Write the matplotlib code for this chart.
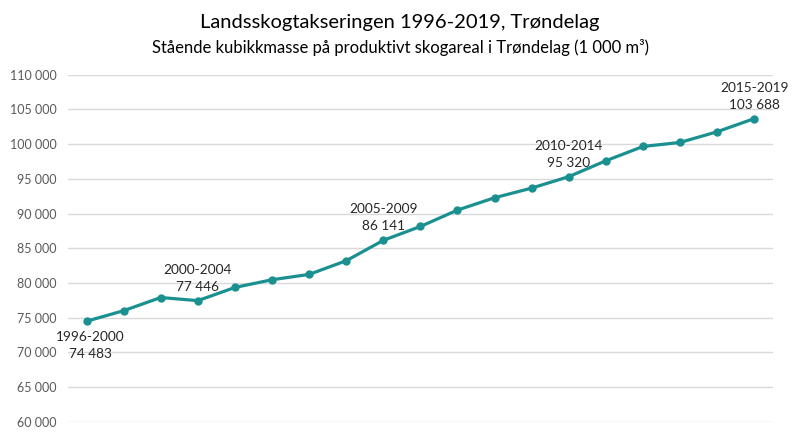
import numpy as np
import matplotlib.pyplot as plt

plt.rcParams['font.family'] = ['Lato', 'DejaVu Sans']

# volum per takstperiode (1 000 m3)
perioder = ['1996-2000', '1997-2001', '1998-2002', '2000-2004', '2001-2005',
            '2002-2006', '2003-2007', '2004-2008', '2005-2009', '2006-2010',
            '2007-2011', '2008-2012', '2009-2013', '2010-2014', '2011-2015',
            '2012-2016', '2013-2017', '2014-2018', '2015-2019']
volum = [74483, 76000, 77900, 77446, 79350, 80460, 81230, 83200, 86141, 88140,
         90500, 92280, 93670, 95320, 97610, 99670, 100250, 101790, 103688]
merket = ['1996-2000', '2000-2004', '2005-2009', '2010-2014', '2015-2019']

farge = '#1a9090'

fig = plt.figure(figsize=(8, 4.4), dpi=100)
ax = fig.add_axes([0.085, 0.0416, 0.881, 0.7884])

x = np.arange(len(volum))
ax.plot(x, volum, color=farge, lw=2.3, marker='o', ms=5, zorder=3)

ax.set_xlim(-0.5, len(volum) - 0.5)
ax.set_ylim(60000, 110000)
ax.set_yticks(np.arange(60000, 110001, 5000))
ax.set_yticklabels([f'{v:,}'.replace(',', ' ') for v in range(60000, 110001, 5000)],
                   fontsize=9, color='#595959')
ax.set_xticks([])
ax.tick_params(axis='y', length=0, pad=8)
ax.grid(axis='y', color='#d9d9d9', lw=1)
ax.set_axisbelow(True)
for s in ax.spines.values():
    s.set_visible(False)

for p in merket:
    i = perioder.index(p)
    v = volum[i]
    tekst = p + '\n' + f'{v:,}'.replace(',', ' ')
    if i == 0:
        ax.annotate(tekst, (i, v), xytext=(4, -10), textcoords='offset pixels',
                    ha='center', va='top', fontsize=9.8, color='#262626', linespacing=1.5)
    else:
        ax.annotate(tekst, (i, v), xytext=(0, 8), textcoords='offset pixels',
                    ha='center', va='bottom', fontsize=9.8, color='#262626', linespacing=1.5)

fig.text(0.5, 0.948, 'Landsskogtakseringen 1996-2019, Trøndelag', ha='center', va='center',
         fontsize=14.5, color='#000000')
fig.text(0.5, 0.892, 'Stående kubikkmasse på produktivt skogareal i Trøndelag (1 000 m³)',
         ha='center', va='center', fontsize=12, color='#000000')

fig.savefig('out.png', dpi=100)
